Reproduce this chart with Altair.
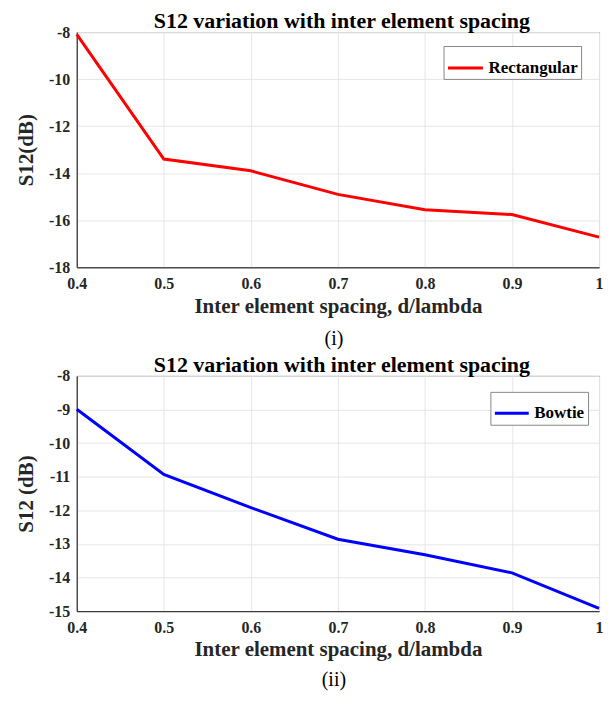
import altair as alt
import pandas as pd

spacing = [0.4, 0.5, 0.6, 0.7, 0.8, 0.9, 1.0]
rect_s12 = [-8.1, -13.4, -13.9, -14.9, -15.55, -15.76, -16.72]
bowtie_s12 = [-8.99, -10.93, -11.92, -12.86, -13.32, -13.86, -14.92]

title_text = "S12 variation with inter element spacing"
x_title = "Inter element spacing, d/lambda"
x_ticks = [0.4, 0.5, 0.6, 0.7, 0.8, 0.9, 1.0]
top_y_ticks = [-18, -16, -14, -12, -10, -8]
bot_y_ticks = [-15, -14, -13, -12, -11, -10, -9, -8]

FONT = "Liberation Serif"
W = 524


def panel(values, name, color, ylabel, ydom, yticks, height, caption, cap_dy,
          legend_x, legend_y, sym):
    df = pd.DataFrame({"x": spacing, "y": values, "series": name})
    line = alt.Chart(df).mark_line(strokeWidth=3).encode(
        x=alt.X("x:Q", scale=alt.Scale(domain=[0.4, 1.0], nice=False),
                axis=alt.Axis(values=x_ticks, title=x_title, format="~g", labelFlush=False)),
        y=alt.Y("y:Q", scale=alt.Scale(domain=ydom, nice=False),
                axis=alt.Axis(values=yticks, title=ylabel,
                              labelExpr="replace(format(datum.value, 'd'), '\u2212', '-')")),
        color=alt.Color("series:N", scale=alt.Scale(domain=[name], range=[color]),
                        legend=alt.Legend(title=None, orient="none",
                                          legendX=legend_x, legendY=legend_y,
                                          symbolSize=sym)),
    )
    head = alt.Chart(pd.DataFrame({"t": [title_text]})).mark_text(
        font=FONT, fontSize=22, fontWeight="bold", color="#000000", baseline="middle"
    ).encode(text="t:N", x=alt.value(W / 2 + 4), y=alt.value(-11))
    cap = alt.Chart(pd.DataFrame({"t": [caption]})).mark_text(
        font=FONT, fontSize=20, fontWeight="normal", color="#000000", baseline="middle"
    ).encode(text="t:N", x=alt.value(W / 2 - 4), y=alt.value(height + cap_dy))
    return alt.layer(line, head, cap).properties(width=W, height=height)


top = panel(rect_s12, "Rectangular", "#ff0000", "S12(dB)", [-18, -8], top_y_ticks, 236,
            "(i)", 72, 368, 14, 1225)
bot = panel(bowtie_s12, "Bowtie", "#0000ff", "S12 (dB)", [-15, -8], bot_y_ticks, 236,
            "(ii)", 69, 415, 16, 1156)

chart = alt.vconcat(top, bot, spacing=3).resolve_scale(color="independent").properties(
    padding={"left": 7, "top": 0, "right": 0, "bottom": 0}
).configure(font=FONT).configure_axis(
    labelFont=FONT, titleFont=FONT, labelFontSize=16, titleFontSize=21,
    labelFontWeight="bold", titleFontWeight="bold",
    labelColor="#262626", titleColor="#262626", domainColor="#262626",
    ticks=False, gridColor="#e6e6e6",
).configure_axisX(titlePadding=4, labelPadding=8).configure_axisY(
    titlePadding=12, labelPadding=7
).configure_legend(
    symbolType="stroke", symbolStrokeWidth=3,
    labelFontSize=17, labelFont=FONT, labelFontWeight="bold", labelColor="#000000",
    strokeColor="#888888", fillColor="#ffffff", padding=3, labelOffset=4,
).configure_view(stroke="#262626", strokeWidth=1)

chart.save("out.html", embed_options={"renderer": "svg", "actions": False})
